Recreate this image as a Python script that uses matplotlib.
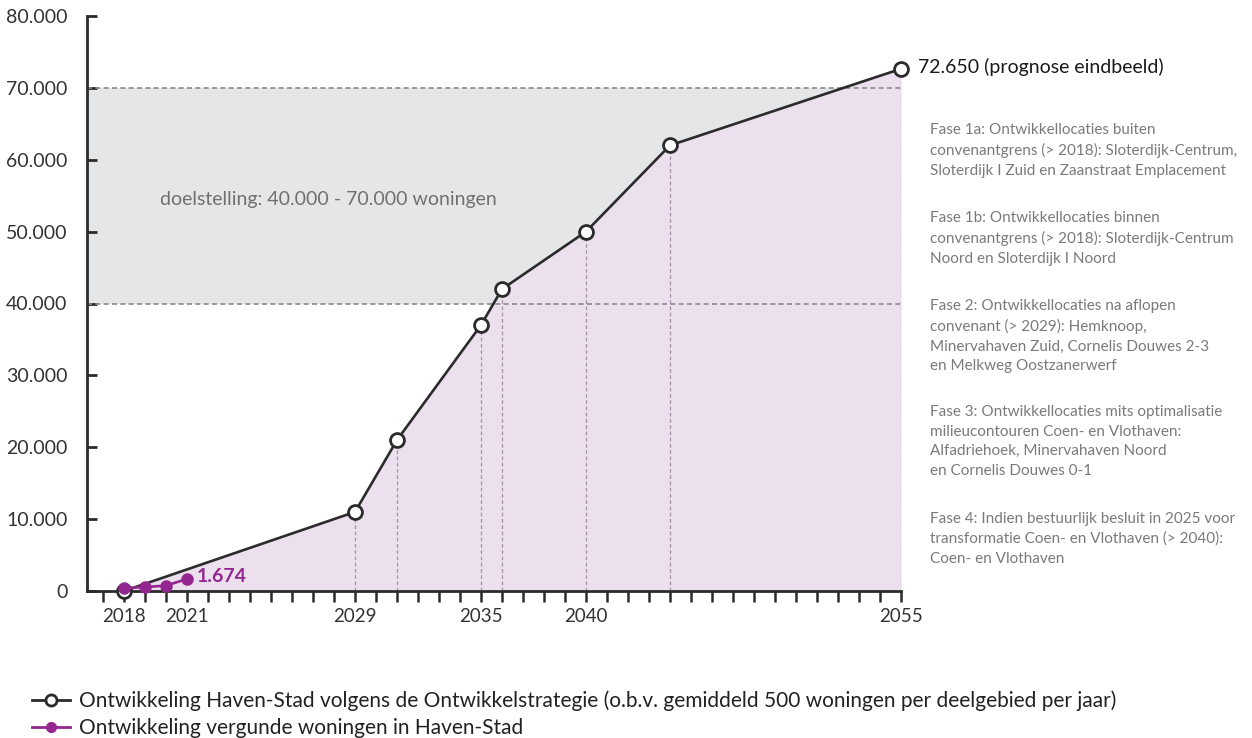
import matplotlib
matplotlib.use("Agg")
import matplotlib.pyplot as plt
from matplotlib.ticker import FuncFormatter, MultipleLocator
from matplotlib.lines import Line2D

plt.rcParams['font.family'] = ['Lato', 'DejaVu Sans']

# Ontwikkelstrategie Haven-Stad (prognose)
jaren = [2018, 2029, 2031, 2035, 2036, 2040, 2044, 2055]
woningen = [0, 11000, 21000, 37000, 42000, 50000, 62000, 72650]

# vergunde woningen
jaren_vergund = [2018, 2019, 2020, 2021]
vergund = [400, 550, 750, 1674]

doel_min, doel_max = 40000, 70000
xlabels = [2018, 2021, 2029, 2035, 2040, 2055]

fases = [
    "Fase 1a: Ontwikkellocaties buiten\nconvenantgrens (> 2018): Sloterdijk-Centrum,\nSloterdijk I Zuid en Zaanstraat Emplacement",
    "Fase 1b: Ontwikkellocaties binnen\nconvenantgrens (> 2018): Sloterdijk-Centrum\nNoord en Sloterdijk I Noord",
    "Fase 2: Ontwikkellocaties na aflopen\nconvenant (> 2029): Hemknoop,\nMinervahaven Zuid, Cornelis Douwes 2-3\nen Melkweg Oostzanerwerf",
    "Fase 3: Ontwikkellocaties mits optimalisatie\nmilieucontouren Coen- en Vlothaven:\nAlfadriehoek, Minervahaven Noord\nen Cornelis Douwes 0-1",
    "Fase 4: Indien bestuurlijk besluit in 2025 voor\ntransformatie Coen- en Vlothaven (> 2040):\nCoen- en Vlothaven",
]
fase_y = [129, 217, 305, 411, 518]

paars = '#93278f'
donker = '#2b2b2b'

fig = plt.figure(figsize=(12.52, 7.38), dpi=100)
ax = fig.add_axes([87 / 1252, 1 - 591 / 738, (901 - 87) / 1252, (591 - 16) / 738])

x0 = 2018 - 37 / 21
ax.set_xlim(x0, 2055)
ax.set_ylim(0, 80000)

# doelstelling band + vlak onder de lijn
ax.axhspan(doel_min, doel_max, color='#e5e6e8', zorder=0, lw=0)
ax.fill_between(jaren, woningen, 0, color='#ecdfee', zorder=1, lw=0)
for y in (doel_min, doel_max):
    ax.axhline(y, color='#8a8a8a', ls=(0, (3, 2)), lw=1.2, zorder=2)
for x, y in zip(jaren[1:], woningen[1:]):
    ax.plot([x, x], [0, y], color='#a890a8', ls=(0, (3, 2)), lw=0.9, zorder=2)

ax.plot(jaren, woningen, color=donker, lw=1.9, marker='o', ms=10, mfc='white',
        mec=donker, mew=2, zorder=5, clip_on=False)
ax.plot(jaren_vergund, vergund, color=paars, lw=1.9, marker='o', ms=8,
        mfc=paars, mec=paars, zorder=6, clip_on=False)

ax.text(2019.7, 54500, 'doelstelling: 40.000 - 70.000 woningen', fontsize=14,
        color='#707070', va='center')
ax.text(2055.8, woningen[-1] + 200, '72.650 (prognose eindbeeld)', fontsize=14,
        color='#1a1a1a', va='center', clip_on=False)
ax.text(2021.45, vergund[-1] + 300, '1.674', fontsize=14, color=paars,
        fontweight='bold', va='center')

for s in ('top', 'right'):
    ax.spines[s].set_visible(False)
for s in ('left', 'bottom'):
    ax.spines[s].set_linewidth(2)
    ax.spines[s].set_color(donker)

ax.yaxis.set_major_locator(MultipleLocator(10000))
ax.yaxis.set_major_formatter(FuncFormatter(lambda v, p: f'{int(v):,}'.replace(',', '.')))
ax.tick_params(axis='y', direction='in', length=7, width=2, color=donker,
               labelsize=14, labelcolor='#333333', pad=14)

ax.set_xticks(range(2017, 2056))
ax.set_xticklabels([str(j) if j in xlabels else '' for j in range(2017, 2056)])
ax.tick_params(axis='x', direction='out', length=8, width=1.8, color=donker,
               labelsize=13.5, labelcolor='#333333', pad=4)

for tekst, y in zip(fases, fase_y):
    fig.text(930 / 1252, 1 - (y - 6) / 738, tekst, fontsize=11, color='#7a7a7a',
             va='top', ha='left', linespacing=1.5)

handles = [
    Line2D([], [], color=donker, lw=2, marker='o', ms=8, mfc='white', mec=donker, mew=2),
    Line2D([], [], color=paars, lw=2, marker='o', ms=7, mfc=paars, mec=paars),
]
labels = [
    'Ontwikkeling Haven-Stad volgens de Ontwikkelstrategie (o.b.v. gemiddeld 500 woningen per deelgebied per jaar)',
    'Ontwikkeling vergunde woningen in Haven-Stad',
]
fig.legend(handles, labels, loc='upper left', bbox_to_anchor=(22 / 1252, 1 - 680 / 738),
           frameon=False, fontsize=15, handlelength=1.8, handletextpad=0.45,
           labelspacing=0.35, labelcolor='#222222', borderpad=0)

fig.savefig('out.png', dpi=100)
